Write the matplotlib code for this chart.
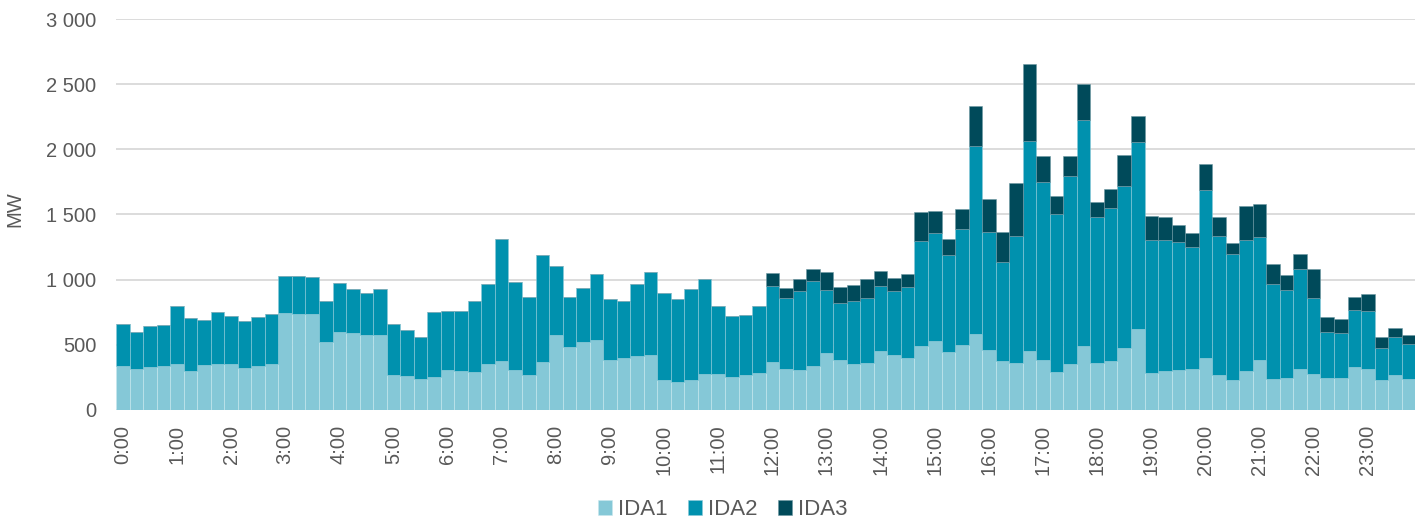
import matplotlib
matplotlib.use("Agg")
import matplotlib.pyplot as plt
import numpy as np

plt.rcParams['font.family'] = ['Liberation Sans', 'DejaVu Sans']

hours = [f"{h}:00" for h in range(24)]

ida1 = [335, 317, 327, 338, 350, 299, 343, 355, 355, 322, 338, 355,
        742, 737, 737, 522, 601, 593, 578, 575, 268, 261, 238, 253,
        304, 297, 292, 355, 376, 307, 268, 366, 573, 486, 519, 540,
        384, 396, 414, 419, 230, 217, 230, 279, 279, 251, 268, 286,
        368, 315, 307, 335, 437, 384, 353, 358, 453, 422, 399, 488,
        532, 448, 499, 581, 460, 373, 363, 453, 384, 289, 353, 488,
        362, 373, 478, 622, 286, 299, 309, 315, 397, 266, 228, 299,
        381, 235, 248, 315, 276, 246, 246, 332, 315, 230, 271, 235]

ida2 = [325, 281, 317, 317, 450, 404, 347, 394, 364, 361, 378, 384,
        289, 289, 286, 312, 371, 333, 320, 353, 389, 355, 322, 496,
        453, 460, 544, 614, 939, 678, 599, 821, 529, 381, 420, 501,
        468, 438, 555, 640, 670, 635, 701, 724, 517, 470, 458, 514,
        583, 544, 609, 652, 486, 437, 481, 501, 498, 491, 547, 808,
        825, 741, 890, 1445, 904, 762, 969, 1611, 1364, 1215, 1445, 1737,
        1121, 1174, 1239, 1432, 1018, 1003, 978, 936, 1291, 1069, 971, 1005,
        946, 732, 670, 764, 581, 350, 347, 433, 445, 246, 292, 269]

ida3 = [0, 0, 0, 0, 0, 0, 0, 0, 0, 0, 0, 0,
        0, 0, 0, 0, 0, 0, 0, 0, 0, 0, 0, 0,
        0, 0, 0, 0, 0, 0, 0, 0, 0, 0, 0, 0,
        0, 0, 0, 0, 0, 0, 0, 0, 0, 0, 0, 0,
        98, 77, 87, 97, 138, 120, 122, 144, 118, 97, 98, 222,
        172, 126, 151, 304, 258, 228, 406, 591, 203, 136, 153, 279,
        111, 146, 240, 204, 187, 179, 130, 109, 200, 144, 80, 259,
        251, 156, 118, 120, 225, 118, 103, 102, 132, 84, 64, 71]

series_names = ["IDA1", "IDA2", "IDA3"]
colors = ["#85C8D7", "#0091AE", "#004A5A"]

fig = plt.figure(figsize=(14.23, 5.22), dpi=100)
ax = fig.add_axes([0.0815, 0.2146, 0.913, 0.749])

x = np.arange(len(ida1))
a1 = np.array(ida1)
a2 = np.array(ida2)
a3 = np.array(ida3)
ax.bar(x, a1, width=1.0, color=colors[0], label=series_names[0],
       edgecolor="#C9E8EF", linewidth=0.4, zorder=2)
ax.bar(x, a2, width=1.0, bottom=a1, color=colors[1], label=series_names[1],
       edgecolor="#8CCAD8", linewidth=0.4, zorder=2)
ax.bar(x, a3, width=1.0, bottom=a1 + a2, color=colors[2], label=series_names[2],
       edgecolor="#6E98A3", linewidth=0.4, zorder=2)

ax.set_xlim(-0.5, len(ida1) - 0.5)
ax.set_ylim(0, 3000)
ax.set_yticks(np.arange(0, 3001, 500))
ax.set_yticklabels([f"{v:,}".replace(",", " ") for v in range(0, 3001, 500)])
ax.set_xticks(np.arange(0, 96, 4))
ax.set_xticklabels(hours, rotation=90)
ax.tick_params(axis='both', length=0, colors="#595959", labelsize=14.5)
ax.tick_params(axis='y', pad=14)
ax.tick_params(axis='x', pad=10.5)
for s in ax.spines.values():
    s.set_visible(False)
ax.yaxis.grid(True, color="#D9D9D9", linewidth=1.3, zorder=0)
ax.set_axisbelow(True)
ax.set_ylabel("MW", fontsize=14.5, color="#595959", va="center")
ax.yaxis.set_label_coords(-0.0778, 0.513)

handles, labels = ax.get_legend_handles_labels()
fig.legend(handles, labels, loc="center", bbox_to_anchor=(0.508, 0.023),
           ncol=3, frameon=False, fontsize=16, handlelength=0.62, handleheight=0.62,
           handletextpad=0.3, columnspacing=0.9, labelcolor="#595959",
           borderpad=0.0)

fig.savefig("out.png", dpi=100)
